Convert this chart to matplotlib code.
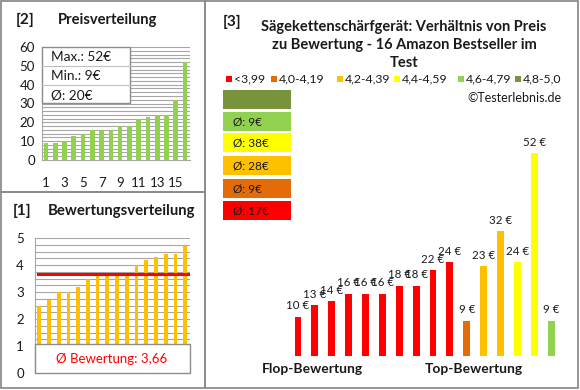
import numpy as np
import matplotlib.pyplot as plt
from matplotlib.patches import Rectangle

plt.rcParams['font.family'] = ['Lato', 'DejaVu Sans']

# --- data ---
price_sorted = [9, 9, 10, 13, 14, 16, 16, 16, 18, 18, 22, 23, 24, 24, 32, 52]
price_stats = ["Max.: 52€", "Min.: 9€", "Ø: 20€"]
ratings_sorted = [2.5, 2.7, 3.0, 3.0, 3.2, 3.5, 3.6, 3.6, 3.6, 3.6, 4.0, 4.2, 4.3, 4.4, 4.4, 4.7]
avg_rating = 3.66
avg_label = "Ø Bewertung: 3,66"

prices_by_rating = [10, 13, 14, 16, 16, 16, 18, 18, 22, 24, 9, 23, 32, 24, 52, 9]
price_groups = [0, 0, 0, 0, 0, 0, 0, 0, 0, 0, 1, 2, 2, 3, 3, 4]
group_labels = ["<3,99", "4,0-4,19", "4,2-4,39", "4,4-4,59", "4,6-4,79", "4,8-5,0"]
group_colors = ["#FF0000", "#E36C09", "#FFC000", "#FFFF00", "#92D050", "#77933C"]
group_avgs = ["Ø: 17€", "Ø: 9€", "Ø: 28€", "Ø: 38€", "Ø: 9€", ""]

title3 = "Sägekettenschärfgerät: Verhältnis von Preis\nzu Bewertung - 16 Amazon Bestseller im\nTest"

W, H = 580, 390
fig = plt.figure(figsize=(W / 100, H / 100), dpi=100)
fig.patch.set_facecolor('white')

border = '#8c8c8c'
grid_c = '#a6a6a6'
txt_c = '#1a1a1a'


def add_ax(l, t, r, b):
    return fig.add_axes([l / W, 1 - b / H, (r - l) / W, (b - t) / H])


def rect(l, t, r, b, fc='white', ec=border, lw=1.0, z=2):
    fig.add_artist(Rectangle((l / W, 1 - b / H), (r - l) / W, (b - t) / H,
                             transform=fig.transFigure, facecolor=fc,
                             edgecolor=ec, linewidth=lw, zorder=z))


def ftext(x, y, s, **kw):
    fig.text(x / W, 1 - y / H, s, **kw)


# panel borders
rect(1, 1, 205, 192, fc='none', lw=1.3, z=0)
rect(1, 192, 205, 388, fc='none', lw=1.3, z=0)
rect(205, 1, 578, 388, fc='none', lw=1.3, z=0)

# ---- [2] Preisverteilung ----
ftext(16, 20, "[2]", fontsize=11, fontweight='bold', color=txt_c, va='center')
ftext(58, 20, "Preisverteilung", fontsize=10.6, fontweight='bold', color=txt_c, va='center')

ax2 = add_ax(42, 47, 190, 160)
xs = np.arange(1, len(price_sorted) + 1)
ax2.bar(xs, price_sorted, width=0.5, color="#92D050", zorder=3)
ax2.set_ylim(0, 60)
ax2.set_xlim(0.57, 16.53)
for g in np.arange(2, 61, 2):
    ax2.axhline(g, color=grid_c, lw=0.8, zorder=1)
ax2.set_yticks(range(0, 61, 10))
ax2.set_xticks(range(1, 16, 2))
ax2.tick_params(axis='x', length=0, pad=12, labelsize=9.5, colors=txt_c)
ax2.tick_params(axis='y', length=0, pad=5, labelsize=9.5, colors=txt_c)
for s in ['top', 'right']:
    ax2.spines[s].set_visible(False)
for s in ['left', 'bottom']:
    ax2.spines[s].set_color(grid_c)

rect(42, 47, 130, 103, z=3)
for yl in (66, 85):
    fig.add_artist(plt.Line2D([42 / W, 130 / W], [1 - yl / H] * 2, color='#c0c0c0', lw=0.8, zorder=4))
for i, s in enumerate(price_stats):
    ftext(51, 57 + i * 19, s, fontsize=9.8, color=txt_c, va='center', zorder=5)

# ---- [1] Bewertungsverteilung ----
ftext(13, 211, "[1]", fontsize=11, fontweight='bold', color=txt_c, va='center')
ftext(48, 211, "Bewertungsverteilung", fontsize=10.7, fontweight='bold', color=txt_c, va='center')

ax1 = add_ax(35, 238, 190, 373)
ax1.bar(xs, ratings_sorted, width=0.38, color="#FFC000", zorder=3)
ax1.set_ylim(0, 5)
ax1.set_xlim(0.56, 16.5)
for g in np.arange(1, 5.01, 0.25):
    ax1.axhline(g, color=grid_c, lw=0.8, zorder=1)
ax1.axhline(avg_rating, xmin=0.02, xmax=0.985, color='#FF0000', lw=2.2, zorder=4)
ax1.set_yticks(range(0, 6))
ax1.set_xticks([])
ax1.tick_params(axis='y', length=0, pad=8, labelsize=9.5, colors=txt_c)
for s in ['top', 'right', 'bottom']:
    ax1.spines[s].set_visible(False)
ax1.spines['left'].set_color(grid_c)

rect(35, 344, 190, 373, z=3)
ftext(112, 359, avg_label, fontsize=9.5, color='#FF0000', ha='center', va='center', zorder=5)

# ---- [3] Preis / Bewertung ----
ftext(223, 22, "[3]", fontsize=11, fontweight='bold', color=txt_c, va='center')
ftext(404, 45, title3, fontsize=10.5, fontweight='bold', color=txt_c,
      ha='center', va='center', linespacing=1.4)

leg_x = [226, 271, 337, 394, 458, 515]
for x, lab, c in zip(leg_x, group_labels, group_colors):
    rect(x, 76, x + 6, 82, fc=c, ec='none', z=3)
    ftext(x + 8, 79, lab, fontsize=8.8, color=txt_c, va='center')
ftext(562, 98, "©Testerlebnis.de", fontsize=9, color=txt_c, ha='right', va='center')

box_tops = [201, 179, 156, 133, 112, 90]
for top, c, s in zip(box_tops, group_colors, group_avgs):
    rect(223, top, 291, top + 19, fc=c, ec='none', z=3)
    if s:
        ftext(233, top + 10, s, fontsize=8.5, color=txt_c, va='center', zorder=5)

ax3 = add_ax(282, 140, 568, 356)
x3 = np.arange(len(prices_by_rating))
cols = [group_colors[g] for g in price_groups]
ax3.bar(x3, prices_by_rating, width=0.41, color=cols)
for xi, v in zip(x3, prices_by_rating):
    ax3.annotate(f"{v} €", (xi, v), xytext=(0, 4), textcoords='offset points',
                 ha='center', va='bottom', fontsize=8.3, color=txt_c)
ax3.set_xlim(-0.95, 16.0)
ax3.set_ylim(0, 55.4)
ax3.axis('off')

ftext(312, 369, "Flop-Bewertung", fontsize=10, fontweight='bold', color=txt_c, ha='center', va='center')
ftext(474, 369, "Top-Bewertung", fontsize=10, fontweight='bold', color=txt_c, ha='center', va='center')

fig.savefig("out.png", dpi=100)
